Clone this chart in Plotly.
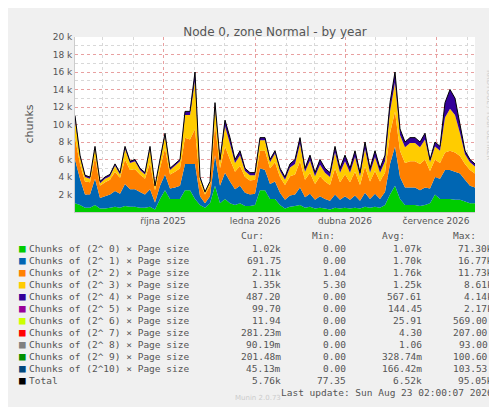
import pandas as pd
import plotly.graph_objects as go

# stacked layers (k chunks), one sample every 5 days
start = "2025-07-05"
g = [1,.8,.5,.5,.8,.4,.4,.5,.6,.5,.7,.6,.6,.5,.5,.6,.3,1.5,2.5,1.5,1.5,1.5,2.5,2.5,1.5,.8,.5,1,3,1,1.5,1,.8,1,.7,.7,.8,2.5,2.5,1.5,1.5,.8,.4,.6,.7,.8,.5,.6,.4,.5,.4,.3,.5,.4,.5,.4,.5,.4,.6,.5,.6,.5,.8,2,3,1.5,.8,.8,.8,.7,.8,1,2,1.5,1.5,1.5,1.4,1.4,1.2,1,1]
b = [5,3,1.5,1.5,3,1.2,1.4,1.5,1.8,1.6,2.5,2,2,1.8,1.5,2,.8,1.5,1.8,1.2,1.3,1.5,3,3,4,1,.5,.8,3.5,2,3,2.5,1.8,2,1.5,1.3,1.3,2.5,2.3,1.7,2,1.4,1,1.3,1.3,2,1.2,1.5,1,1.3,1.1,1,1.5,1,1.3,1,1.4,.9,1.6,1,1.5,1,1.5,3.5,4.5,2.5,2,2,2,1.8,2,1.7,2,2.3,3.3,3.3,3.2,3,2.5,2,1.8]
o = [2.5,1.7,1.5,1.4,2.5,1.4,1.6,1.7,2.2,1.8,2.8,2.2,2.3,2,1.8,3,1.4,2,3,1.6,1.8,2,3,2.8,4,1.5,1,1.2,3.5,2,3,2.5,2,2.3,1.8,1.6,1.6,2,2.2,1.8,2.2,1.8,1.7,2.2,2.3,3,2,2.4,1.8,2.3,2,1.8,3,2,2.5,2,2.7,1.8,3,2,2.6,2,2.2,3.5,4,3,2.8,3,3,3,3.2,2,2,1.8,2,2.2,2.2,2,1.8,1.8,1.6]
y = [2,.8,.5,.4,1,.3,.4,.4,.7,.4,1.2,.8,.9,.5,.5,1.6,.4,.8,1.4,.5,.7,.8,2.6,2.8,5.5,.5,.2,.4,2,.7,2.3,1.8,1,1.2,.7,.6,.5,1.2,1.2,.7,1,.7,.6,1,1.2,2,.9,1.4,.9,1.3,1,.9,1.8,1.1,1.5,1.1,1.7,1,2,1,1.6,1,1.3,2.5,3.3,1.8,1.8,2.1,2.1,1.9,2.3,1,1.5,1.4,4,4.8,4.3,2.6,1.1,.9,.8]
p = [.5,.2,.2,.2,.2,.2,.2,.2,.2,.2,.3,.2,.2,.2,.2,.3,.1,.2,.3,.2,.2,.2,.4,.4,1,.2,.1,.1,.5,.3,.7,.7,.4,.5,.3,.3,.3,.3,.3,.3,.3,.3,.3,.4,.5,.7,.4,.6,.4,.6,.5,.5,.7,.5,.7,.5,.7,.4,.8,.5,.7,.5,.7,1,1.2,.7,.6,.6,.6,.6,.7,.3,.5,.5,1.7,2.2,1.9,1,.4,.3,.3]

names = ["Chunks of (2^ %d) × Page size" % i for i in range(10)] + ["Chunks of (2^10) × Page size", "Total"]
colors = ["#00CC00", "#0066B3", "#FF8000", "#FFCC00", "#330099", "#990099",
          "#CCFF00", "#FF0000", "#808080", "#008F00", "#00487D", "#000000"]
cur = ["1.02k", "691.75", "2.11k", "1.35k", "487.20", "99.70", "11.94", "281.23m", "90.19m", "201.48m", "45.13m", "5.76k"]
mins = ["0.00", "0.00", "1.04", "5.30", "0.00", "0.00", "0.00", "0.00", "0.00", "0.00", "0.00", "77.35"]
avgs = ["1.07k", "1.70k", "1.76k", "1.25k", "567.61", "144.45", "25.91", "4.30", "1.06", "328.74m", "166.42m", "6.52k"]
maxs = ["71.30k", "16.77k", "11.73k", "8.61k", "4.14k", "2.17k", "569.00 ", "207.00 ", "93.00 ", "100.60 ", "103.53 ", "95.05k"]

dates = pd.date_range(start, periods=len(g), freq="5D")
layers = [g, b, o, y, p]

fig = go.Figure()
for vals, c in zip(layers, colors):
    fig.add_trace(go.Scatter(x=dates, y=[v * 1000 for v in vals], stackgroup="a",
                             mode="none", fillcolor=c))
total = [sum(t) * 1000 for t in zip(*layers)]
fig.add_trace(go.Scatter(x=dates, y=total, mode="lines", line=dict(color="black", width=1)))

W, H = 497, 407
L, R, T, B = 67, 467, 29, 204
def px(xp): return (xp - L) / (R - L)
def py(yp): return (B - yp) / (B - T)

mono = "DejaVu Sans Mono"
fs = 9.5
ann = []
for txt, xx in [("Cur:", 258), ("Min:", 329), ("Avg:", 399), ("Max:", 470)]:
    ann.append(dict(x=px(xx), y=py(227), text=txt, xanchor="right"))
for i, n in enumerate(names):
    yy = 240 + 12 * i
    ann.append(dict(x=px(9), y=py(yy), text="■", xanchor="left", font=dict(color=colors[i], size=11)))
    ann.append(dict(x=px(19), y=py(yy), text=n, xanchor="left"))
    ann.append(dict(x=px(275), y=py(yy), text=cur[i], xanchor="right"))
    ann.append(dict(x=px(340), y=py(yy), text=mins[i], xanchor="right"))
    ann.append(dict(x=px(416), y=py(yy), text=avgs[i], xanchor="right"))
    ann.append(dict(x=px(487), y=py(yy), text=maxs[i], xanchor="right"))
ann.append(dict(x=px(487), y=py(384), text="Last update: Sun Aug 23 02:00:07 2026", xanchor="right"))
for a in ann:
    a.update(xref="paper", yref="paper", showarrow=False, yanchor="middle")
    a.setdefault("font", dict(size=fs, color="#555"))
    a["font"]["family"] = mono
ann.append(dict(x=px(250), y=py(396), xref="paper", yref="paper", showarrow=False, text="Munin 2.0.73",
                font=dict(family="DejaVu Sans", size=7, color="#ccc")))
ann.append(dict(x=px(487), y=py(60), xref="paper", yref="paper", showarrow=False, textangle=90,
                text="RRDTOOL / TOBI OETIKER", font=dict(family="DejaVu Sans", size=7, color="#ccc")))
ann.append(dict(x=px(12), y=py(116), xref="paper", yref="paper", showarrow=False, textangle=-90,
                text="chunks", font=dict(family="DejaVu Sans", size=11, color="#555")))

fig.update_layout(
    width=W, height=H, margin=dict(l=L, r=W - R, t=T, b=H - B),
    paper_bgcolor="#f0f0f0", plot_bgcolor="white", showlegend=False,
    title=dict(text="Node 0, zone Normal - by year", x=(L + R) / 2 / W, xanchor="center", y=1 - 20 / H,
               font=dict(family="DejaVu Sans", size=12, color="#555")),
    annotations=ann,
)
fig.update_xaxes(range=[dates[0], dates[-1]],
                 tickvals=pd.to_datetime(["2025-10-01", "2026-01-01", "2026-04-01", "2026-07-01"]),
                 ticktext=["října 2025", "ledna 2026", "dubna 2026", "července 2026"],
                 tickfont=dict(family="DejaVu Sans", size=9, color="#555"),
                 showgrid=True, gridcolor="#e8a0a0", griddash="dot", gridwidth=1,
                 minor=dict(dtick="M1", showgrid=True, gridcolor="#d8d8d8", griddash="dot"),
                 showline=True, linecolor="#ccc", zeroline=False)
fig.update_yaxes(range=[0, 20000], tickvals=list(range(2000, 20001, 2000)),
                 ticktext=["%d k" % v for v in range(2, 21, 2)],
                 tickfont=dict(family="DejaVu Sans", size=9, color="#555"),
                 showgrid=True, gridcolor="#e8a0a0", griddash="dot", gridwidth=1,
                 minor=dict(dtick=1000, showgrid=True, gridcolor="#d8d8d8", griddash="dot"),
                 showline=True, linecolor="#ccc", zeroline=False)
fig.write_html("out.html")
